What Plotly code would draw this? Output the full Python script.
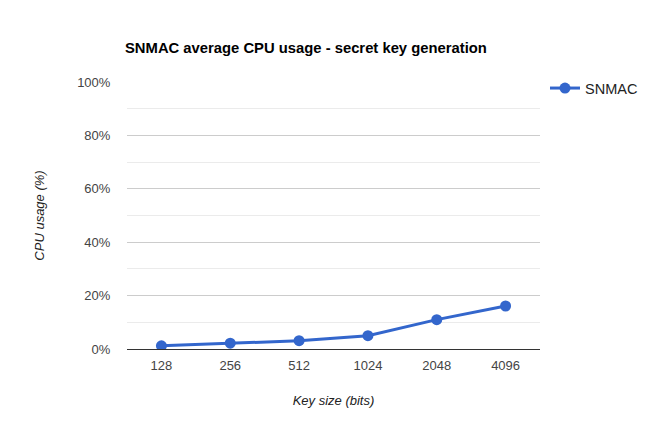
import plotly.graph_objects as go

key_sizes = ["128", "256", "512", "1024", "2048", "4096"]
cpu_usage = [1.2, 2.2, 3.1, 5.0, 11.0, 16.1]
y_ticks = [0, 20, 40, 60, 80, 100]
y_tick_labels = ["0%", "20%", "40%", "60%", "80%", "100%"]

fig = go.Figure()
fig.add_trace(go.Scatter(
    x=key_sizes, y=cpu_usage, name="SNMAC", mode="lines+markers",
    line=dict(color="#3366cc", width=3),
    marker=dict(color="#3366cc", size=11),
))

font = "Liberation Sans, Arial, sans-serif"
fig.update_layout(
    width=664, height=432,
    margin=dict(l=127, r=124, t=82, b=83),
    paper_bgcolor="white", plot_bgcolor="white",
    font=dict(family=font, size=13, color="#444444"),
    title=dict(text="<b>SNMAC average CPU usage - secret key generation</b>",
               x=125/664, xanchor="left", y=1-48/432, yanchor="middle",
               font=dict(family=font, size=14.8, color="#000000")),
    showlegend=True,
    legend=dict(x=1 + 5/413, xanchor="left", y=1.037, yanchor="top",
                font=dict(family=font, size=14.5, color="#222222"),
                bgcolor="rgba(0,0,0,0)"),
    xaxis=dict(
        type="category", range=[-0.5, len(key_sizes) - 0.5],
        showgrid=False, showline=False,
        ticks="outside", ticklen=4, tickcolor="rgba(0,0,0,0)",
        title=dict(text="<i>Key size (bits)</i>", standoff=24,
                   font=dict(family=font, size=13, color="#222222")),
        tickfont=dict(size=13, color="#444444"),
    ),
    yaxis=dict(
        range=[0, 100], tickvals=y_ticks, ticktext=y_tick_labels,
        showgrid=True, gridcolor="#cccccc", gridwidth=1,
        zeroline=True, zerolinecolor="#333333", zerolinewidth=1,
        minor=dict(dtick=10, showgrid=True, gridcolor="#ebebeb", gridwidth=1),
        showline=False,
        ticks="outside", ticklen=13, tickcolor="rgba(0,0,0,0)",
        title=dict(text="<i>CPU usage (%)</i>", standoff=29,
                   font=dict(family=font, size=13, color="#222222")),
        tickfont=dict(size=13, color="#444444"),
    ),
)

fig.write_html("out.html", config={"displayModeBar": False},
               post_script="document.body.style.margin='0';")
